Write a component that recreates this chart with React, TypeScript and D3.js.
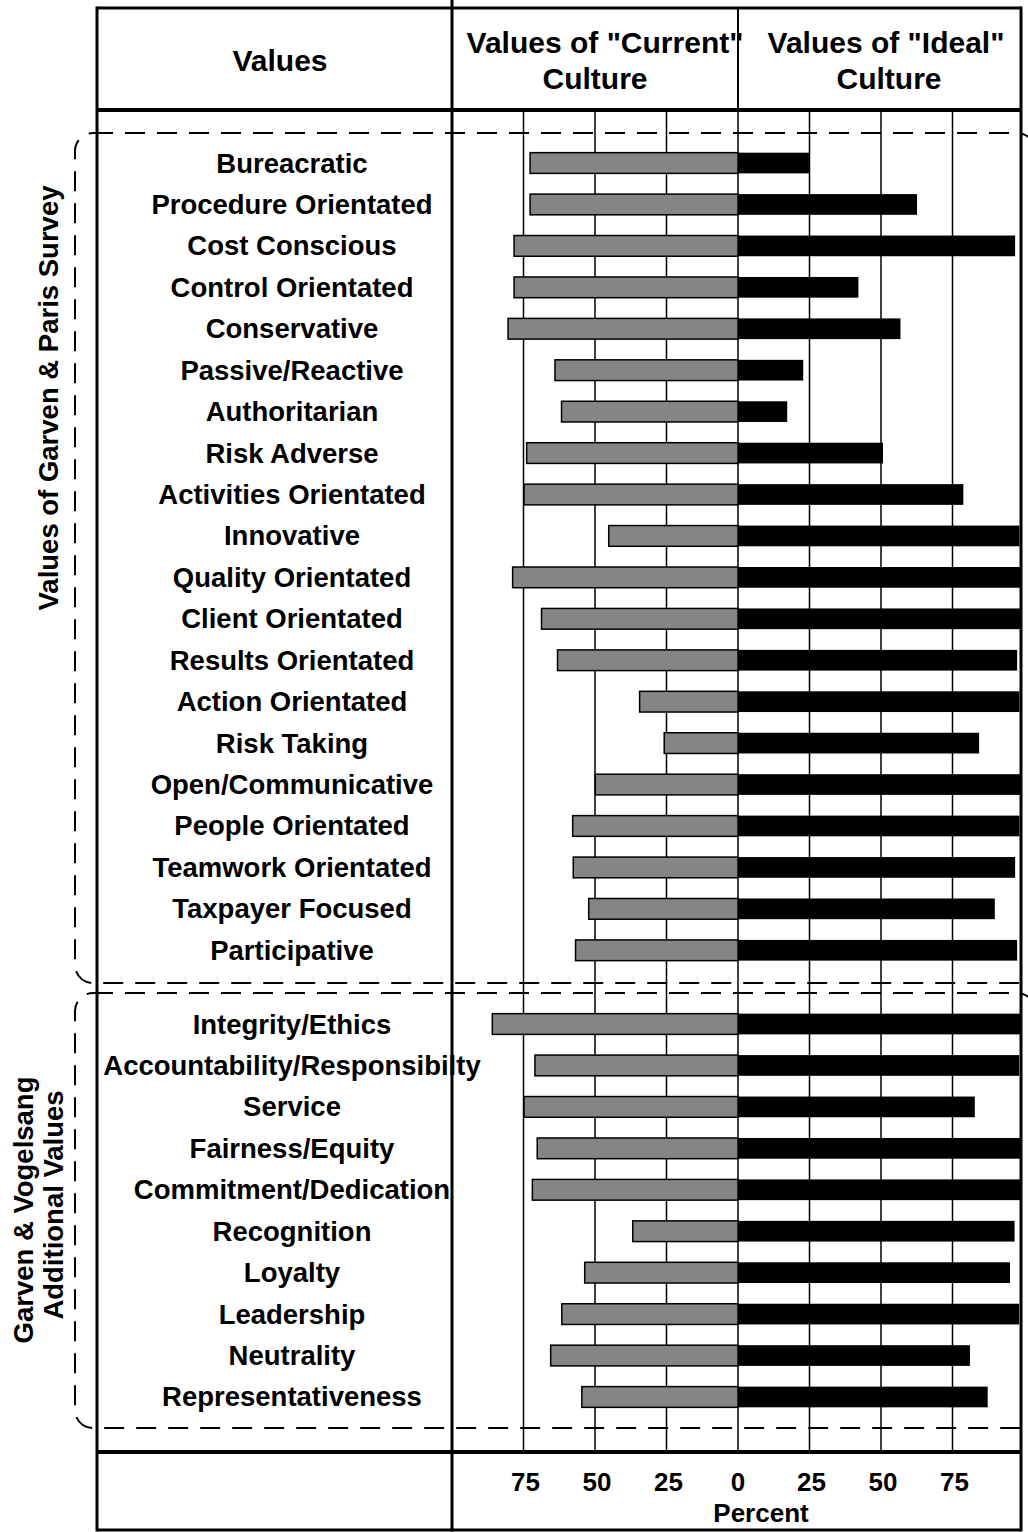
import React from "react";
import * as d3 from "d3";

const groupOneValues = [
  "Bureacratic", "Procedure Orientated", "Cost Conscious", "Control Orientated", "Conservative",
  "Passive/Reactive", "Authoritarian", "Risk Adverse", "Activities Orientated", "Innovative",
  "Quality Orientated", "Client Orientated", "Results Orientated", "Action Orientated", "Risk Taking",
  "Open/Communicative", "People Orientated", "Teamwork Orientated", "Taxpayer Focused", "Participative",
];
const groupOneCurrent = [72.7, 72.7, 78.3, 78.3, 80.4, 64, 61.7, 73.9, 74.8, 45.2, 78.8, 68.7, 63.1, 34.4, 25.8, 49.9, 57.8, 57.6, 52.2, 56.8];
const groupOneIdeal = [24.8, 62.6, 96.9, 42.1, 56.8, 22.8, 17.2, 50.7, 78.8, 98.4, 100, 100, 97.6, 98.4, 84.3, 100, 98.4, 96.9, 89.8, 97.6];

const groupTwoValues = [
  "Integrity/Ethics", "Accountability/Responsibilty", "Service", "Fairness/Equity", "Commitment/Dedication",
  "Recognition", "Loyalty", "Leadership", "Neutrality", "Representativeness",
];
const groupTwoCurrent = [85.9, 71.0, 74.8, 70.2, 71.9, 36.8, 53.6, 61.6, 65.5, 54.6];
const groupTwoIdeal = [100, 98.3, 82.8, 100, 100, 96.7, 95.1, 98.3, 81.1, 87.3];

const tickValues = [75, 50, 25, 0, 25, 50, 75];
const tickSides = ["L", "L", "L", "C", "R", "R", "R"];

const FONT = "'Liberation Sans', Arial, Helvetica, sans-serif";

export default function App() {
  const W = 1028;
  const H = 1532;
  const frameL = 97, frameR = 1021, frameT = 8, frameB = 1530;
  const headerB = 110, footerT = 1452, divX = 452;

  const xR = d3.scaleLinear().domain([0, 100]).range([738, 1024]);
  const xL = d3.scaleLinear().domain([0, 100]).range([738, 452]);

  const y1 = d3.scaleBand<string>().domain(groupOneValues).range([142.3, 971]).paddingInner(0.5).paddingOuter(0.25);
  const y2 = d3.scaleBand<string>().domain(groupTwoValues).range([1003.3, 1417.7]).paddingInner(0.5).paddingOuter(0.25);

  const rows = [
    ...groupOneValues.map((n, i) => ({ name: n, cur: groupOneCurrent[i], ideal: groupOneIdeal[i], y: y1(n)!, h: y1.bandwidth() })),
    ...groupTwoValues.map((n, i) => ({ name: n, cur: groupTwoCurrent[i], ideal: groupTwoIdeal[i], y: y2(n)!, h: y2.bandwidth() })),
  ];

  const gridXs = tickValues.map((v, i) => (tickSides[i] === "R" ? xR(v) : xL(v)));

  return (
    <svg width={W} height={H} style={{ position: "absolute", left: 0, top: 0, background: "#fff" }} fontFamily={FONT}>
      <defs>
        <clipPath id="plotClip">
          <rect x={frameL} y={headerB} width={frameR - frameL} height={footerT - headerB} />
        </clipPath>
      </defs>
      <rect x={0} y={0} width={W} height={H} fill="#fff" />

      {/* gridlines */}
      {gridXs.map((x, i) => (
        <line key={"g" + i} x1={x} x2={x} y1={headerB} y2={footerT} stroke="#000" strokeWidth={1.5} />
      ))}

      {/* bars */}
      <g clipPath="url(#plotClip)">
        {rows.map((r) => (
          <g key={r.name}>
            <rect x={xL(r.cur)} y={r.y} width={xL(0) - xL(r.cur)} height={r.h} fill="#858585" stroke="#000" strokeWidth={1.5} />
            <rect x={xR(0)} y={r.y} width={xR(r.ideal) - xR(0)} height={r.h} fill="#000" />
          </g>
        ))}
      </g>

      {/* frame */}
      <line x1={frameL} x2={frameR} y1={frameT} y2={frameT} stroke="#000" strokeWidth={3} />
      <line x1={frameL} x2={frameR} y1={frameB} y2={frameB} stroke="#000" strokeWidth={3} />
      <line x1={frameL} x2={frameL} y1={frameT - 1.5} y2={frameB + 1.5} stroke="#000" strokeWidth={3} />
      <line x1={frameR} x2={frameR} y1={frameT - 1.5} y2={frameB + 1.5} stroke="#000" strokeWidth={3} />
      <line x1={frameL} x2={frameR} y1={headerB} y2={headerB} stroke="#000" strokeWidth={4} />
      <line x1={frameL} x2={frameR} y1={footerT} y2={footerT} stroke="#000" strokeWidth={4} />
      <line x1={divX} x2={divX} y1={0} y2={frameB + 1.5} stroke="#000" strokeWidth={3} />
      <line x1={xR(0)} x2={xR(0)} y1={frameT} y2={headerB} stroke="#000" strokeWidth={2} />

      {/* dashed group brackets */}
      <rect x={75} y={133} width={960} height={850} rx={18} ry={18} fill="none" stroke="#000" strokeWidth={2} strokeDasharray="20 12" />
      <rect x={75} y={993} width={960} height={435} rx={18} ry={18} fill="none" stroke="#000" strokeWidth={2} strokeDasharray="20 12" />

      {/* header */}
      <g fontWeight="bold" fontSize={30} textAnchor="middle" fill="#000">
        <text x={280} y={71}>Values</text>
        <text x={605} y={53}>Values of "Current"</text>
        <text x={595} y={89}>Culture</text>
        <text x={886} y={53}>Values of "Ideal"</text>
        <text x={889} y={89}>Culture</text>
      </g>

      {/* category labels */}
      <g fontWeight="bold" fontSize={27.5} textAnchor="middle" fill="#000">
        {rows.map((r) => (
          <text key={"t" + r.name} x={292} y={r.y + r.h / 2} dominantBaseline="central">{r.name}</text>
        ))}
      </g>

      {/* group labels */}
      <g fontWeight="bold" fontSize={27.5} textAnchor="middle" fill="#000">
        <text transform="translate(48,398) rotate(-90)" dominantBaseline="central">Values of Garven &amp; Paris Survey</text>
        <text transform="translate(23,1210) rotate(-90)" dominantBaseline="central">Garven &amp; Vogelsang</text>
        <text transform="translate(53,1205) rotate(-90)" dominantBaseline="central">Additional Values</text>
      </g>

      {/* axis */}
      <g fontWeight="bold" fontSize={26} textAnchor="middle" fill="#000">
        {tickValues.map((v, i) => (
          <text key={"k" + i} x={gridXs[i] + (i === 3 ? 0 : 2)} y={1491}>{v}</text>
        ))}
        <text x={xR(0) + 23} y={1522}>Percent</text>
      </g>
    </svg>
  );
}
